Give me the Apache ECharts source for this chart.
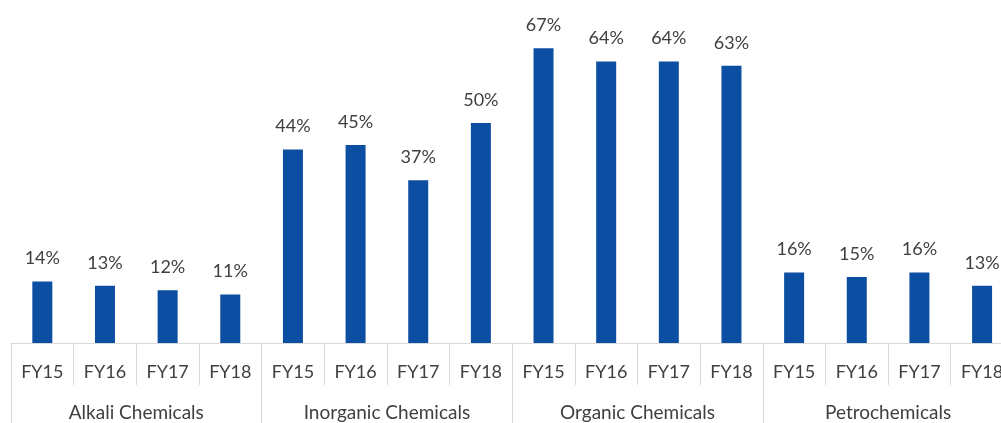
<!DOCTYPE html>
<html>
<head>
<meta charset="utf-8">
<script src="https://cdn.jsdelivr.net/npm/echarts@6/dist/echarts.min.js"></script>
<style>
  html, body { margin: 0; padding: 0; background: #ffffff; }
  #chart { width: 1001px; height: 423px; }
</style>
</head>
<body>
<div id="chart"></div>
<script>
// Segment groups and fiscal years
const segments = ['Alkali Chemicals', 'Inorganic Chemicals', 'Organic Chemicals', 'Petrochemicals'];
const years = ['FY15', 'FY16', 'FY17', 'FY18'];

// Share (%) per segment, FY15..FY18
const alkali = [14, 13, 12, 11];
const inorganic = [44, 45, 37, 50];
const organic = [67, 64, 64, 63];
const petro = [16, 15, 16, 13];

const seriesBySegment = [alkali, inorganic, organic, petro];
const xYears = [];
const values = [];
seriesBySegment.forEach(function (arr) {
  arr.forEach(function (v, i) {
    xYears.push(years[i]);
    values.push(v);
  });
});

const FONT = 'Lato';
const TEXT = '#404040';
const LINE = '#d9d9d9';

const chart = echarts.init(document.getElementById('chart'), null, { renderer: 'canvas' });
chart.setOption({
  animation: false,
  backgroundColor: '#ffffff',
  // plot area runs slightly past the right edge of the canvas
  grid: { left: 11, width: 1002.4, top: 35, bottom: 80, outerBoundsMode: 'none', containLabel: false },
  xAxis: [
    {
      type: 'category',
      data: xYears,
      position: 'bottom',
      axisLine: { show: true, lineStyle: { color: LINE, width: 1 } },
      axisTick: { show: true, interval: 0, length: 42, lineStyle: { color: LINE } },
      axisLabel: { interval: 0, margin: 20, color: TEXT, fontFamily: FONT, fontSize: 18 }
    },
    {
      type: 'category',
      data: segments,
      position: 'bottom',
      axisLine: { show: false },
      axisTick: { show: true, interval: 0, length: 80, lineStyle: { color: LINE } },
      axisLabel: { interval: 0, margin: 60, color: TEXT, fontFamily: FONT, fontSize: 19 }
    }
  ],
  yAxis: {
    type: 'value',
    min: 0,
    max: 70,
    show: false,
    splitLine: { show: false }
  },
  series: [
    {
      type: 'bar',
      xAxisIndex: 0,
      data: values,
      barWidth: 20,
      itemStyle: { color: '#0b4ea2' },
      label: {
        show: true,
        position: 'top',
        distance: 14,
        formatter: '{c}%',
        color: TEXT,
        fontFamily: FONT,
        fontSize: 18
      }
    }
  ]
});
</script>
</body>
</html>
